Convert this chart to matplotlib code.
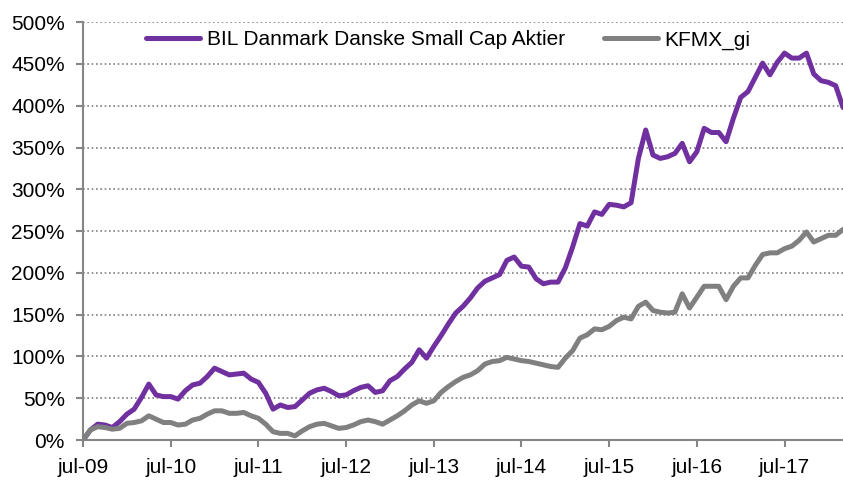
import numpy as np
import matplotlib.pyplot as plt

plt.rcParams['font.family'] = ['Liberation Sans', 'DejaVu Sans']

# month index 0 = jul-09, monthly points up to mar-18
bil = [0, 12, 19, 18, 15, 22, 31, 37, 51, 67, 54, 52, 52, 49, 59, 66, 68, 76, 86, 82,
       78, 79, 80, 73, 69, 56, 37, 42, 39, 40, 48, 56, 60, 62, 58, 53, 54, 59, 63, 65,
       57, 59, 71, 76, 85, 93, 108, 98, 112, 125, 139, 152, 160, 170, 182, 190, 194, 198, 215, 219,
       208, 207, 193, 187, 189, 189, 206, 231, 259, 256, 273, 270, 282, 281, 279, 284, 337, 371, 341, 337,
       339, 343, 355, 333, 345, 373, 368, 368, 357, 385, 410, 417, 434, 451, 437, 452, 463, 457, 457, 463,
       438, 430, 428, 424, 398]
kfmx = [0, 12, 16, 15, 13, 14, 20, 21, 23, 29, 25, 21, 21, 18, 19, 24, 26, 31, 35, 35,
        32, 32, 33, 29, 26, 19, 10, 8, 8, 5, 11, 16, 19, 20, 17, 14, 15, 18, 22, 24,
        22, 19, 24, 29, 35, 42, 47, 44, 47, 57, 64, 70, 75, 78, 83, 91, 94, 95, 99, 97,
        95, 94, 92, 90, 88, 87, 98, 107, 122, 126, 133, 132, 136, 143, 147, 145, 160, 165, 155, 153,
        152, 153, 175, 158, 171, 184, 184, 184, 168, 184, 194, 194, 209, 222, 224, 224, 229, 232, 239, 249,
        237, 241, 245, 245, 252]

tick_labels = ['jul-09', 'jul-10', 'jul-11', 'jul-12', 'jul-13', 'jul-14', 'jul-15', 'jul-16', 'jul-17']
y_ticks = [0, 50, 100, 150, 200, 250, 300, 350, 400, 450, 500]

x = np.arange(len(bil))

fig = plt.figure(figsize=(8.43, 4.82), dpi=100)
ax = fig.add_axes([0.0985, 0.087, 0.9015, 0.867])

ax.plot(x, bil, color='#7030A0', lw=3.6, solid_joinstyle='round', solid_capstyle='round',
        label='BIL Danmark Danske Small Cap Aktier', zorder=3)
ax.plot(x, kfmx, color='#808080', lw=3.6, solid_joinstyle='round', solid_capstyle='round',
        label='KFMX_gi', zorder=3)

ax.set_xlim(0, len(bil) - 1)
ax.set_ylim(0, 500)
ax.set_yticks(y_ticks)
ax.set_yticklabels([f'{v}%' for v in y_ticks])
ax.set_xticks(np.arange(len(tick_labels)) * 12)
ax.set_xticklabels(tick_labels)

ax.grid(axis='y', color='#808080', linestyle=(0, (1, 1.6)), linewidth=1.2)
ax.set_axisbelow(True)

for s in ['top', 'right']:
    ax.spines[s].set_visible(False)
for s in ['left', 'bottom']:
    ax.spines[s].set_color('#868686')
    ax.spines[s].set_linewidth(1.5)

ax.tick_params(axis='both', colors='#868686', labelcolor='black', labelsize=15,
               direction='out', length=5, width=1.5)
ax.tick_params(axis='y', pad=8)
ax.tick_params(axis='x', pad=8)

fig.legend(loc='center', bbox_to_anchor=(0.532, 0.917), ncol=2, frameon=False,
           fontsize=15, handlelength=2.6, handletextpad=0.3, columnspacing=1.9)

fig.savefig('out.png', dpi=100)
